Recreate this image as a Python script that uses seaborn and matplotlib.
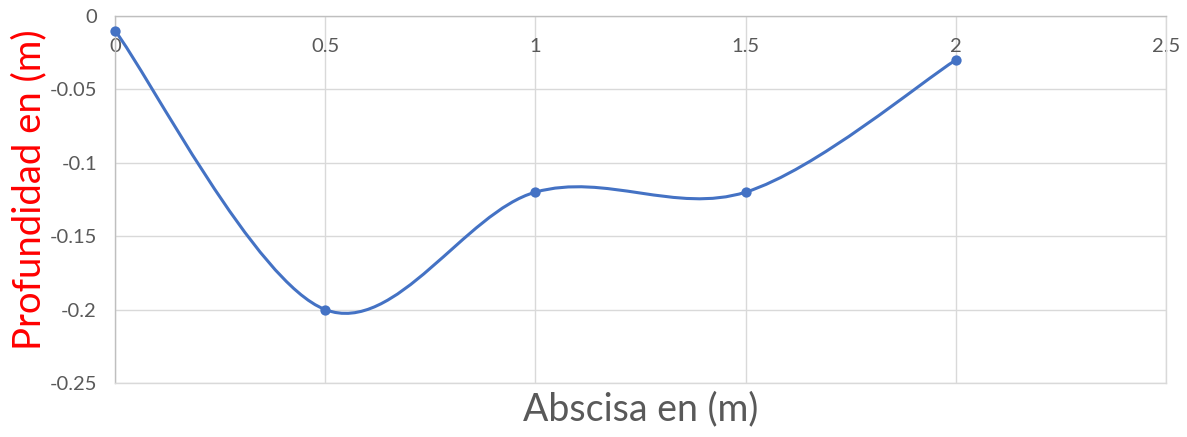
import numpy as np
import pandas as pd
import matplotlib
matplotlib.use('Agg')
import matplotlib.pyplot as plt
from matplotlib.path import Path
from matplotlib.patches import PathPatch
import seaborn as sns

# data
abscisa = [0.0, 0.5, 1.0, 1.5, 2.0]
profundidad = [-0.01, -0.20, -0.12, -0.12, -0.03]
x_ticks = [0, 0.5, 1, 1.5, 2, 2.5]
x_tick_labels = ['0', '0.5', '1', '1.5', '2', '2.5']
y_ticks = [0, -0.05, -0.1, -0.15, -0.2, -0.25]
y_tick_labels = ['0', '-0.05', '-0.1', '-0.15', '-0.2', '-0.25']

LINE = '#4472C4'
GRID = '#d9d9d9'
TXT = '#595959'

sns.set_theme(style='white')
plt.rcParams['font.family'] = ['Lato', 'DejaVu Sans']

df = pd.DataFrame({'x': abscisa, 'y': profundidad})

fig = plt.figure(figsize=(11.87, 4.37), dpi=100)
ax = fig.add_axes([0.0969, 0.1236, 0.8854, 0.8398])


def smooth_path(xs, ys):
    # Excel-like smoothed line: cubic Bezier with Catmull-Rom control points
    pts = np.column_stack([xs, ys])
    n = len(pts)
    verts = [pts[0]]
    codes = [Path.MOVETO]
    for i in range(n - 1):
        p0 = pts[max(i - 1, 0)]
        p1 = pts[i]
        p2 = pts[i + 1]
        p3 = pts[min(i + 2, n - 1)]
        c1 = p1 + (p2 - p0) / 6.0
        c2 = p2 - (p3 - p1) / 6.0
        verts += [c1, c2, p2]
        codes += [Path.CURVE4] * 3
    return Path(verts, codes)


patch = PathPatch(smooth_path(df['x'].values, df['y'].values), facecolor='none',
                  edgecolor=LINE, lw=2.2, capstyle='round', zorder=3)
ax.add_patch(patch)
sns.scatterplot(data=df, x='x', y='y', ax=ax, color=LINE, s=55,
                edgecolor=LINE, linewidth=0, zorder=4, clip_on=False)

ax.set_xlim(0, 2.5)
ax.set_ylim(-0.25, 0)
ax.set_xticks(x_ticks)
ax.set_xticklabels(x_tick_labels)
ax.set_yticks(y_ticks)
ax.set_yticklabels(y_tick_labels)

ax.xaxis.set_ticks_position('top')
ax.xaxis.set_label_position('bottom')
ax.tick_params(axis='x', length=0, pad=-28, labelsize=14.5, colors=TXT)
ax.tick_params(axis='y', length=0, pad=13, labelsize=14.5, colors=TXT)

ax.grid(True, color=GRID, lw=1.0)
ax.set_axisbelow(True)
for side in ['left', 'top']:
    ax.spines[side].set_color('#bfbfbf')
    ax.spines[side].set_linewidth(1.0)
for side in ['right', 'bottom']:
    ax.spines[side].set_color(GRID)
    ax.spines[side].set_linewidth(1.0)

ax.set_xlabel('Abscisa en (m)', fontsize=27, color=TXT, labelpad=6)
ax.set_ylabel('Profundidad en (m)', fontsize=27.5, color='#ff0000')
ax.yaxis.set_label_coords(-0.064, 0.526)

fig.savefig('out.png', dpi=100)
